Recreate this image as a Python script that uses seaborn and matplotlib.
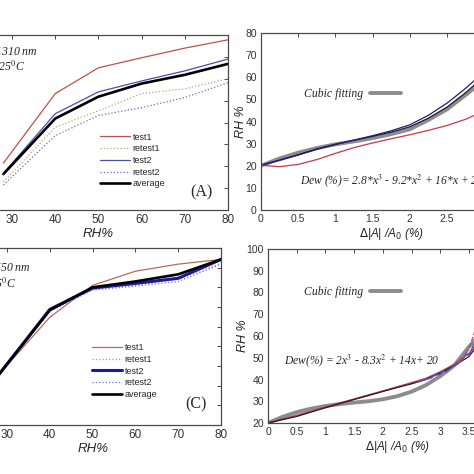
import numpy as np
import matplotlib
matplotlib.use("Agg")
import matplotlib.pyplot as plt
import seaborn as sns

# ---- data: left panels, (Δ|A|/A0 %) vs RH% ----
rh = [28, 40, 50, 60, 70, 80]

a_test1 = [1.07, 2.66, 3.25, 3.48, 3.70, 3.89]
a_retest1 = [0.64, 1.89, 2.27, 2.66, 2.77, 3.00]
a_test2 = [0.84, 2.20, 2.70, 2.95, 3.18, 3.45]
a_retest2 = [0.57, 1.70, 2.16, 2.34, 2.57, 2.91]
a_average = [0.82, 2.09, 2.59, 2.89, 3.09, 3.34]

c_test1 = [1.27, 2.74, 3.55, 3.91, 4.09, 4.21]
c_retest1 = [1.25, 2.90, 3.45, 3.55, 3.71, 4.11]
c_test2 = [1.27, 2.94, 3.48, 3.60, 3.73, 4.21]
c_retest2 = [1.24, 2.89, 3.43, 3.53, 3.65, 4.09]
c_average = [1.27, 2.92, 3.50, 3.65, 3.83, 4.21]

# ---- data: right panels, RH vs Δ|A|/A0 ----
b_x = [0, 0.25, 0.5, 0.75, 1.0, 1.25, 1.5, 1.75, 2.0, 2.25, 2.5, 2.75, 2.9]
b_fit = [20, 23.3, 25.9, 28.0, 29.7, 31.0, 32.5, 34.3, 36.5, 40.7, 45.5, 52.0, 56.0]
b_black = [20.2, 22.6, 25.0, 27.6, 29.7, 31.5, 33.3, 35.2, 37.6, 41.5, 46.5, 53.0, 57.5]
b_blue = [20.2, 22.4, 24.8, 27.4, 29.6, 31.6, 33.6, 35.8, 38.5, 42.8, 48.3, 55.0, 59.5]
b_red = [20.2, 19.6, 20.6, 22.8, 25.6, 28.2, 30.3, 32.2, 34.0, 36.0, 38.2, 41.0, 43.3]

d_x = [0, 0.25, 0.5, 0.75, 1.0, 1.25, 1.5, 1.75, 2.0, 2.25, 2.5, 2.75, 3.0, 3.25, 3.5, 3.6]
d_fit = [20, 22.8, 25.0, 26.6, 27.8, 28.7, 29.4, 30.0, 30.9, 32.3, 34.4, 37.4, 41.5, 46.6, 55.0, 58.0]
d_red = [20, 21.8, 23.5, 25.4, 27.3, 29.2, 31.0, 32.9, 34.7, 36.6, 38.5, 40.5, 43.5, 47.0, 52.0, 55.0]
d_black = [20, 21.5, 23.0, 25.0, 27.0, 28.9, 30.8, 32.6, 34.5, 36.3, 38.0, 40.0, 43.0, 46.5, 50.5, 54.0]
d_blue_x = [2.6, 2.75, 2.85, 2.9, 3.0, 3.05, 3.1, 3.2, 3.25, 3.3, 3.4, 3.45, 3.5, 3.55, 3.6]
d_blue = [38.8, 40.0, 40.8, 42.0, 42.3, 44.0, 43.5, 45.5, 46.8, 47.0, 49.5, 52.0, 51.0, 54.0, 57.0]
d_purple_x = [3.3, 3.4, 3.5, 3.55, 3.6]
d_purple = [47.5, 50.0, 54.0, 58.0, 62.0]

sns.set_theme(style="white")
plt.rcParams["font.family"] = ["Liberation Sans", "DejaVu Sans"]
plt.rcParams["axes.edgecolor"] = "#4a4a4a"
plt.rcParams["axes.linewidth"] = 0.9

fig = plt.figure(figsize=(4.74, 4.74), dpi=100)
W = 474.0


def box(left, top, right, bottom):
    return [left / W, (W - bottom) / W, (right - left) / W, (bottom - top) / W]


ax_a = fig.add_axes(box(-31.2, 35, 228, 210))
ax_b = fig.add_axes(box(261, 33, 261 + 3.5 * 74.4, 210))
ax_c = fig.add_axes(box(-35.8, 248, 221, 425))
ax_d = fig.add_axes(box(268, 249, 268 + 4.5 * 57.4, 423))

serif = dict(family="Liberation Serif", style="italic", math_fontfamily="stix")

for ax in (ax_a, ax_b, ax_c, ax_d):
    ax.tick_params(direction="in", top=True, right=True, length=3, width=0.7,
                   colors="#4a4a4a", labelcolor="#333333", pad=3)

# ---- panel A ----
sns.lineplot(x=rh, y=a_test1, ax=ax_a, color="#c0504d", lw=0.9, label="test1")
sns.lineplot(x=rh, y=a_retest1, ax=ax_a, color="#c8a070", lw=0.9, ls=":", label="retest1")
sns.lineplot(x=rh, y=a_test2, ax=ax_a, color="#4b4fa8", lw=0.9, label="test2")
sns.lineplot(x=rh, y=a_retest2, ax=ax_a, color="#6a6ac0", lw=0.9, ls=":", label="retest2")
sns.lineplot(x=rh, y=a_average, ax=ax_a, color="black", lw=1.9, label="average")
ax_a.set_xlim(20, 80)
ax_a.set_ylim(0, 4)
ax_a.set_xticks(np.arange(20, 81, 10))
ax_a.set_yticks(np.arange(0, 4.01, 0.5))
ax_a.tick_params(labelsize=8.5)
ax_a.set_xlabel("RH%", fontsize=9.5, style="italic", labelpad=1)
ax_a.set_ylabel("")
ax_a.legend(loc="center left", bbox_to_anchor=(0.506, 0.283), frameon=False,
            fontsize=6.5, handlelength=3.3, handletextpad=0.3, labelspacing=0.3,
            borderpad=0, borderaxespad=0)
ax_a.text(0.267, 0.903, r"$\lambda$=1310 nm", transform=ax_a.transAxes,
          ha="right", va="center", fontsize=8.5, **serif)
ax_a.text(0.217, 0.817, r"T=25$^0$C", transform=ax_a.transAxes,
          ha="right", va="center", fontsize=8.5, **serif)
ax_a.text(0.896, 0.103, "(A)", transform=ax_a.transAxes, ha="center", va="center",
          fontsize=11.5, family="Liberation Serif")

# ---- panel B ----
sns.lineplot(x=b_x, y=b_fit, ax=ax_b, color="#808080", lw=2.8, alpha=0.9, label="Cubic fitting")
sns.lineplot(x=b_x, y=b_black, ax=ax_b, color="#202020", lw=0.9, legend=False)
sns.lineplot(x=b_x, y=b_blue, ax=ax_b, color="#1c1c80", lw=0.9, legend=False)
sns.lineplot(x=b_x, y=b_red, ax=ax_b, color="#c8384a", lw=0.9, legend=False)
ax_b.set_xlim(0, 3.5)
ax_b.set_ylim(0, 80)
ax_b.set_xticks(np.arange(0, 3.51, 0.5))
ax_b.set_xticklabels(["0", "0.5", "1", "1.5", "2", "2.5", "3", "3.5"])
ax_b.set_yticks(np.arange(0, 81, 10))
ax_b.tick_params(labelsize=7.5)
ax_b.set_xlabel(r"$\Delta$|A| /A$_0$ (%)", fontsize=8.5, style="italic",
                math_fontfamily="dejavusans", labelpad=1)
ax_b.set_ylabel("RH %", fontsize=9, style="italic", labelpad=-1)
ax_b.legend(loc="center left", bbox_to_anchor=(0.166, 0.655), frameon=False,
            markerfirst=False, prop=dict(family="Liberation Serif", style="italic", size=8.5),
            handlelength=2.6, handletextpad=0.6, borderpad=0, borderaxespad=0)
ax_b.text(0.148, 0.165, r"Dew (%)= 2.8*x$^3$ - 9.2*x$^2$ + 16*x + 20",
          transform=ax_b.transAxes, ha="left", va="center", fontsize=8.3, **serif)

# ---- panel C ----
sns.lineplot(x=rh, y=c_test1, ax=ax_c, color="#b86a5a", lw=0.9, label="test1")
sns.lineplot(x=rh, y=c_retest1, ax=ax_c, color="#d080a0", lw=0.9, ls=":", label="retest1")
sns.lineplot(x=rh, y=c_test2, ax=ax_c, color="#1a1aa0", lw=2.2, label="test2")
sns.lineplot(x=rh, y=c_retest2, ax=ax_c, color="#7070e0", lw=0.9, ls=":", label="retest2")
sns.lineplot(x=rh, y=c_average, ax=ax_c, color="black", lw=1.9, label="average")
ax_c.set_xlim(20, 80)
ax_c.set_ylim(0, 4.5)
ax_c.set_xticks(np.arange(20, 81, 10))
ax_c.set_yticks(np.arange(0, 4.51, 0.5))
ax_c.tick_params(labelsize=8.5)
ax_c.set_xlabel("RH%", fontsize=9.5, style="italic", labelpad=1)
ax_c.set_ylabel("")
ax_c.legend(loc="center left", bbox_to_anchor=(0.498, 0.305), frameon=False,
            fontsize=6.5, handlelength=3.3, handletextpad=0.3, labelspacing=0.3,
            borderpad=0, borderaxespad=0)
ax_c.text(0.26, 0.887, r"$\lambda$=1550 nm", transform=ax_c.transAxes,
          ha="right", va="center", fontsize=8.5, **serif)
ax_c.text(0.202, 0.797, r"T=25$^0$C", transform=ax_c.transAxes,
          ha="right", va="center", fontsize=8.5, **serif)
ax_c.text(0.903, 0.119, "(C)", transform=ax_c.transAxes, ha="center", va="center",
          fontsize=11.5, family="Liberation Serif")

# ---- panel D ----
sns.lineplot(x=d_x, y=d_fit, ax=ax_d, color="#808080", lw=2.8, alpha=0.9, label="Cubic fitting")
sns.lineplot(x=d_x, y=d_red, ax=ax_d, color="#c8384a", lw=1.1, legend=False)
sns.lineplot(x=d_x, y=d_black, ax=ax_d, color="#202020", lw=0.9, legend=False)
sns.lineplot(x=d_blue_x, y=d_blue, ax=ax_d, color="#4a58c8", lw=1.0, legend=False)
sns.lineplot(x=d_purple_x, y=d_purple, ax=ax_d, color="#c04a70", lw=0.9, ls="--", legend=False)
ax_d.set_xlim(0, 4.5)
ax_d.set_ylim(20, 100)
ax_d.set_xticks(np.arange(0, 4.51, 0.5))
ax_d.set_xticklabels(["0", "0.5", "1", "1.5", "2", "2.5", "3", "3.5", "4", "4.5"])
ax_d.set_yticks(np.arange(20, 101, 10))
ax_d.tick_params(labelsize=7.5)
ax_d.set_xlabel(r"$\Delta$|A| /A$_0$ (%)", fontsize=8.5, style="italic",
                math_fontfamily="dejavusans", labelpad=1)
ax_d.set_ylabel("RH %", fontsize=9, style="italic", labelpad=-2)
ax_d.legend(loc="center left", bbox_to_anchor=(0.139, 0.753), frameon=False,
            markerfirst=False, prop=dict(family="Liberation Serif", style="italic", size=8.5),
            handlelength=2.6, handletextpad=0.6, borderpad=0, borderaxespad=0)
ax_d.text(0.062, 0.356, r"Dew(%) = 2x$^3$ - 8.3x$^2$ + 14x+ 20",
          transform=ax_d.transAxes, ha="left", va="center", fontsize=8.3, **serif)

fig.savefig("out.png", dpi=100)
